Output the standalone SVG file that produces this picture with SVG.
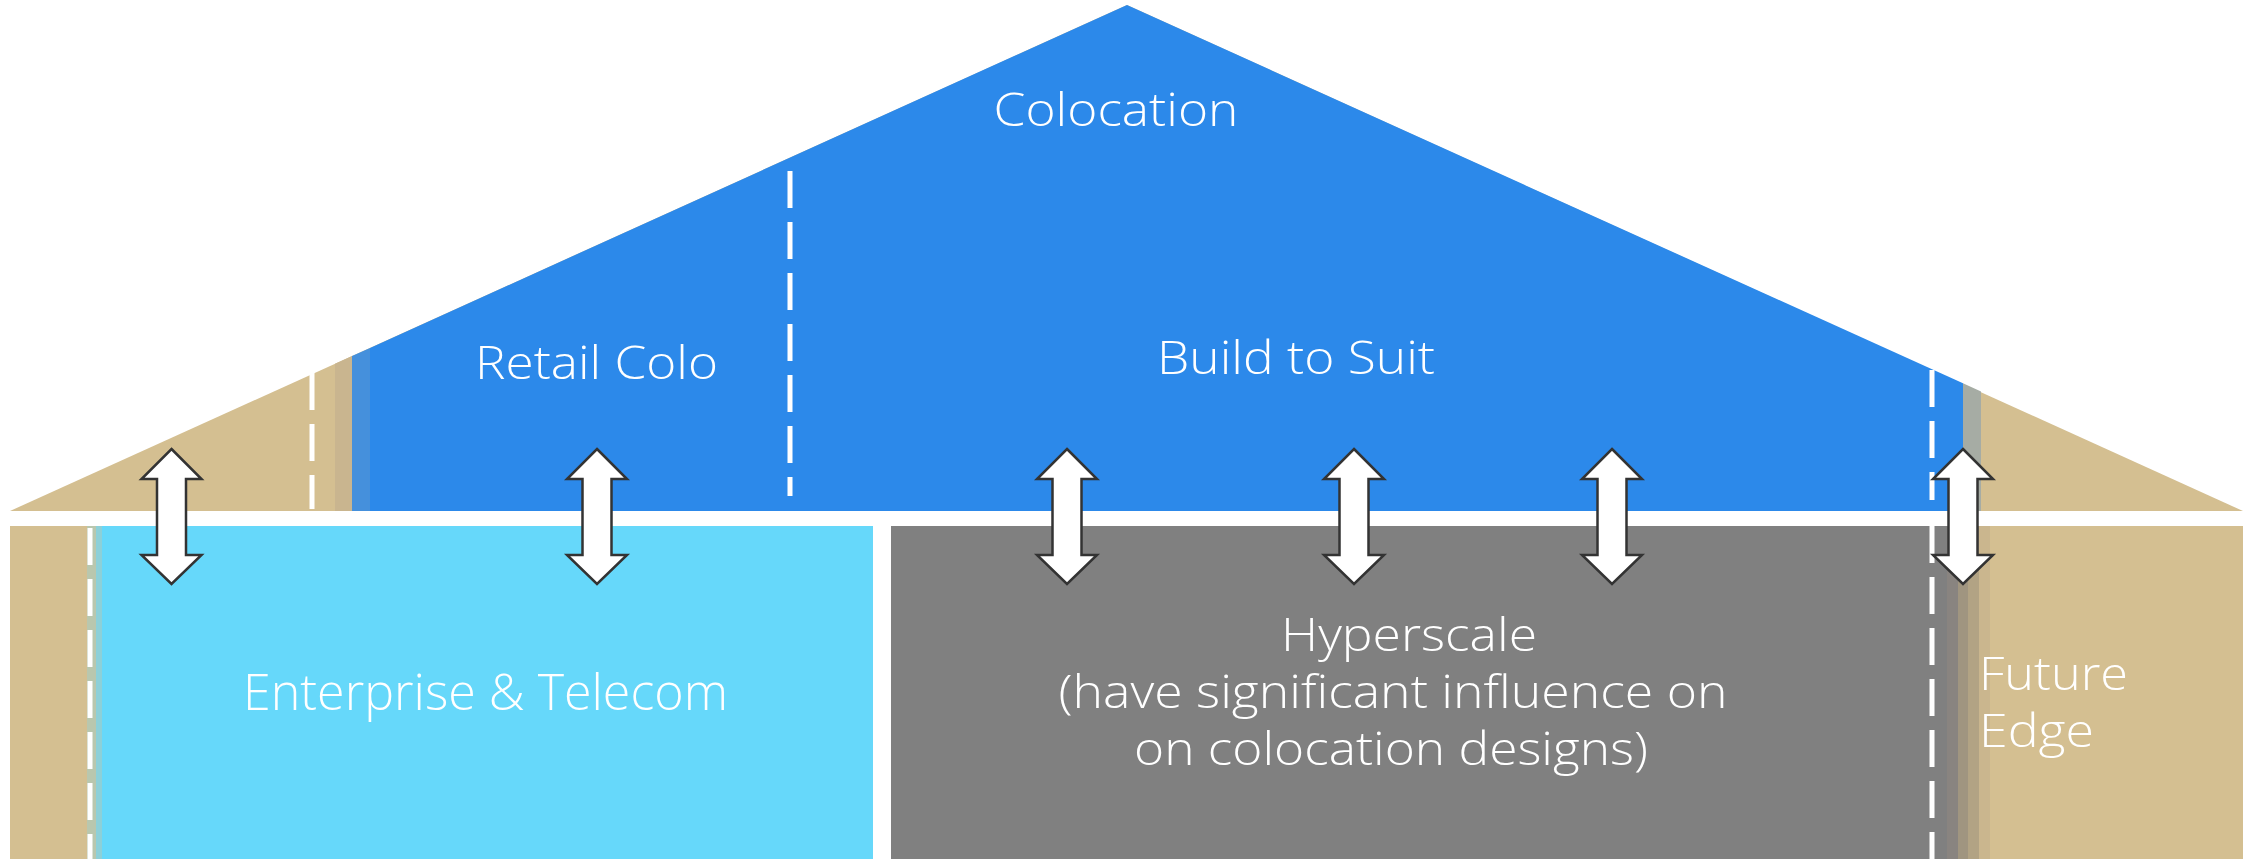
<svg xmlns="http://www.w3.org/2000/svg" xmlns:xlink="http://www.w3.org/1999/xlink" width="2257" height="859" viewBox="0 0 2257 859">
  <style>
    .lbl { fill: #ffffff; font-family: "Open Sans", "Liberation Sans", sans-serif; font-size: 46px; font-weight: 300; }
    .mid { text-anchor: middle; }
    .dash { stroke: #ffffff; stroke-width: 5; stroke-dasharray: 37 14; fill: none; }
    .arrow { fill: #ffffff; stroke: #333333; stroke-width: 2.5; stroke-linejoin: miter; }
  </style>
  <defs>
    <path id="dblArrow" d="M0,0 L30,30 L14.5,30 L14.5,106 L30,106 L0,135 L-30,106 L-14.5,106 L-14.5,30 L-30,30 Z"/>
  </defs>
  <rect x="0" y="0" width="2257" height="859" fill="#ffffff"/>

  <g id="roof">
    <polygon points="10,511 1127,5 2243,511" fill="#d4bf91"/>
    <polygon points="335,511 335,363.8 352,356.1 352,511" fill="#c9b58f"/>
    <polygon points="352,511 352,356.1 370,347.9 370,511" fill="#4590dc"/>
    <polygon points="370,511 370,347.9 1127,5 1963,383.3 1963,511" fill="#2c89ea"/>
    <polygon points="1963,511 1963,383.3 1981,391.4 1981,511" fill="#a6aca4"/>
    <line class="dash" x1="312" y1="373" x2="312" y2="509"/>
    <line class="dash" x1="790" y1="171" x2="790" y2="496"/>
    <line class="dash" x1="1932" y1="370" x2="1932" y2="500"/>
    <text class="lbl mid" x="1116" y="126" textLength="245" lengthAdjust="spacingAndGlyphs">Colocation</text>
  </g>

  <g id="retail-colo">
    <text class="lbl mid" x="596.5" y="379" textLength="243" lengthAdjust="spacingAndGlyphs">Retail Colo</text>
  </g>

  <g id="build-to-suit">
    <text class="lbl mid" x="1296" y="374" textLength="278" lengthAdjust="spacingAndGlyphs">Build to Suit</text>
  </g>

  <g id="left-edge">
    <rect x="10" y="526" width="77" height="333" fill="#d4bf91"/>
    <rect x="87" y="526" width="9" height="333" fill="#b9c7ae"/>
    <rect x="96" y="526" width="6" height="333" fill="#8dd0d8"/>
    <line class="dash" x1="90" y1="528" x2="90" y2="859"/>
  </g>

  <g id="enterprise-telecom">
    <rect x="102" y="526" width="771" height="333" fill="#66d8fa"/>
    <text class="lbl mid" x="485.5" y="710" style="font-size:50px" textLength="485" lengthAdjust="spacingAndGlyphs">Enterprise &amp; Telecom</text>
  </g>

  <g id="hyperscale">
    <rect x="891" y="526" width="1056" height="333" fill="#808080"/>
    <text class="lbl mid" x="1409" y="651" textLength="256" lengthAdjust="spacingAndGlyphs">Hyperscale</text>
    <text class="lbl mid" x="1393" y="708" textLength="669" lengthAdjust="spacingAndGlyphs">(have significant influence on</text>
    <text class="lbl mid" x="1391" y="765" textLength="514" lengthAdjust="spacingAndGlyphs">on colocation designs)</text>
  </g>

  <g id="future-edge">
    <rect x="1947" y="526" width="11" height="333" fill="#898480"/>
    <rect x="1958" y="526" width="10" height="333" fill="#a09580"/>
    <rect x="1968" y="526" width="11" height="333" fill="#b2a384"/>
    <rect x="1979" y="526" width="11" height="333" fill="#cab68e"/>
    <rect x="1990" y="526" width="253" height="333" fill="#d4bf91"/>
    <line class="dash" x1="1932" y1="526" x2="1932" y2="859"/>
    <text class="lbl" x="1979" y="690" textLength="149" lengthAdjust="spacingAndGlyphs">Future</text>
    <text class="lbl" x="1979" y="747" textLength="115" lengthAdjust="spacingAndGlyphs">Edge</text>
  </g>

  <g id="connectors">
    <use xlink:href="#dblArrow" href="#dblArrow" class="arrow" x="171.5" y="449"/>
    <use xlink:href="#dblArrow" href="#dblArrow" class="arrow" x="597" y="449"/>
    <use xlink:href="#dblArrow" href="#dblArrow" class="arrow" x="1067" y="449"/>
    <use xlink:href="#dblArrow" href="#dblArrow" class="arrow" x="1354" y="449"/>
    <use xlink:href="#dblArrow" href="#dblArrow" class="arrow" x="1612" y="449"/>
    <use xlink:href="#dblArrow" href="#dblArrow" class="arrow" x="1963" y="449"/>
  </g>
</svg>
